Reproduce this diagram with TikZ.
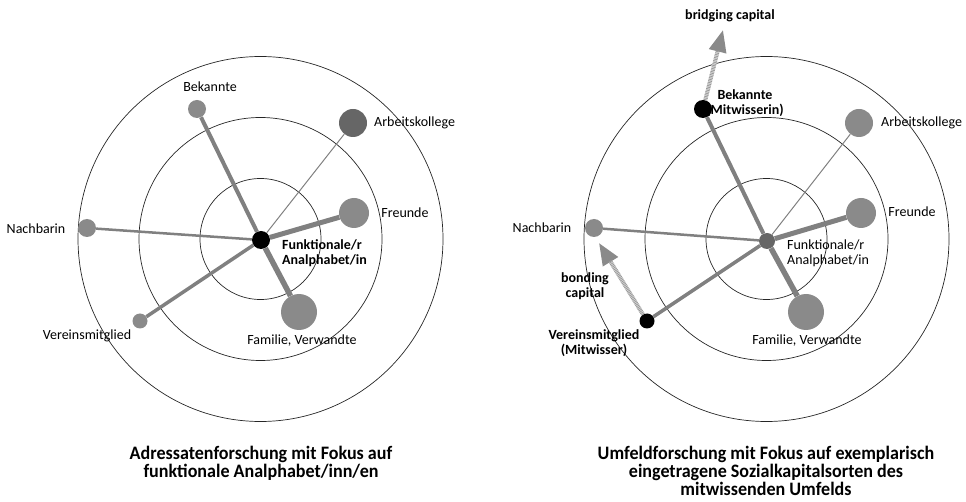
\documentclass[tikz,border=0pt]{standalone}
\usepackage{fontspec}
\setmainfont{Carlito}
\newfontfamily\titulofont[FakeStretch=0.95]{Carlito}
\usepackage{tikz}
\usetikzlibrary{arrows.meta}
\definecolor{nodogris}{HTML}{8A8A8A}
\definecolor{nodooscuro}{HTML}{666666}
\definecolor{lineagris}{HTML}{808080}
\definecolor{rayado}{HTML}{E4E4E4}
\tikzset{
  persona/.style={circle, fill=nodogris, inner sep=0pt},
  anillo/.style={draw=black!85, line width=0.7pt},
  lazo/.style={lineagris},
  etiqueta/.style={font=\fontsize{14}{15}\selectfont, inner sep=0pt, align=center},
  titulo/.style={font=\titulofont\fontsize{19}{18}\selectfont\bfseries, align=center},
  capital/.style={-{Triangle[length=22pt, width=17pt, color=nodogris]},
    line width=4pt, rayado,
    postaction={draw=gray!80, -, dash pattern=on 0.8pt off 0.8pt, shorten >=21pt}}
}

\begin{document}
\begin{tikzpicture}[x=1pt, y=-1pt,
  fuerte/.style={etiqueta, font=\fontsize{14}{15}\selectfont\bfseries}]
  \useasboundingbox (0,0) rectangle (966,502);

  % --- Anillos ---
  \foreach \cx in {260.5, 766.5} {
    \foreach \r in {60.5, 121.5, 182.5} {
      \draw[anillo] (\cx,239) circle[radius=\r pt];
    }
  }

  % --- Etiquetas (antes de los nodos) ---
  \node[etiqueta] at (210,87) {Bekannte};
  \node[etiqueta, anchor=west] at (374,123) {Arbeitskollege};
  \node[etiqueta] at (405,213) {Freunde};
  \node[etiqueta] at (36,229) {Nachbarin};
  \node[etiqueta] at (87,336) {Vereinsmitglied};
  \node[etiqueta] at (302,341) {Familie, Verwandte};
  \node[fuerte, anchor=west, align=left] at (282,253.5) {Funktionale/r\\Analphabet/in};

  \node[fuerte] at (730,16) {bridging capital};
  \node[fuerte] at (745,103.5) {Bekannte\\(Mitwisserin)};
  \node[etiqueta, anchor=west] at (881,123) {Arbeitskollege};
  \node[etiqueta] at (912,212) {Freunde};
  \node[etiqueta] at (542,228) {Nachbarin};
  \node[etiqueta, anchor=west, align=left] at (787,253.5) {Funktionale/r\\Analphabet/in};
  \node[fuerte] at (585,286.5) {bonding\\capital};
  \node[fuerte] at (594,343) {Vereinsmitglied\\(Mitwisser)};
  \node[etiqueta] at (807,341) {Familie, Verwandte};

  % --- Netz links ---
  \node[persona, fill=black, minimum size=18pt] (funkL) at (261,240) {};
  \node[persona, minimum size=18pt] (bekL) at (197,109) {};
  \node[persona, fill=nodooscuro, minimum size=28pt] (arbL) at (353,123) {};
  \node[persona, minimum size=30pt] (freL) at (354,213) {};
  \node[persona, minimum size=36pt] (famL) at (299,312) {};
  \node[persona, minimum size=18pt] (nacL) at (87,228) {};
  \node[persona, minimum size=15pt] (verL) at (140,321) {};

  \draw[lazo, line width=4pt]   (funkL) -- (bekL);
  \draw[lazo, line width=1pt]   (funkL) -- (arbL);
  \draw[lazo, line width=5pt]   (funkL) -- (freL);
  \draw[lazo, line width=5.5pt] (funkL) -- (famL);
  \draw[lazo, line width=2.5pt] (funkL) -- (nacL);
  \draw[lazo, line width=3.5pt] (funkL) -- (verL);

  % --- Netz rechts ---
  \node[persona, fill=nodooscuro, minimum size=16pt] (funkR) at (767,241) {};
  \node[persona, fill=black, minimum size=18pt] (bekR) at (703,109) {};
  \node[persona, minimum size=28pt] (arbR) at (859,123) {};
  \node[persona, minimum size=30pt] (freR) at (861,213) {};
  \node[persona, minimum size=36pt] (famR) at (806,312) {};
  \node[persona, minimum size=18pt] (nacR) at (594,228) {};
  \node[persona, fill=black, minimum size=15pt] (verR) at (647,321) {};

  \draw[lazo, line width=4pt]   (funkR) -- (bekR);
  \draw[lazo, line width=1pt]   (funkR) -- (arbR);
  \draw[lazo, line width=5pt]   (funkR) -- (freR);
  \draw[lazo, line width=5.5pt] (funkR) -- (famR);
  \draw[lazo, line width=2.5pt] (funkR) -- (nacR);
  \draw[lazo, line width=3.5pt] (funkR) -- (verR);

  % Sozialkapital-Pfeile
  \coordinate (puenteR) at (723,30);
  \coordinate (unionR) at (599,243);
  \draw[capital] (bekR) -- (puenteR);
  \draw[capital] (verR) -- (unionR);

  % --- Titel ---
  \node[titulo] at (261,463) {Adressatenforschung mit Fokus auf\\funktionale Analphabet/inn/en};
  \node[titulo] at (766,471) {Umfeldforschung mit Fokus auf exemplarisch\\eingetragene Sozialkapitalsorten des\\mitwissenden Umfelds};

\end{tikzpicture}
\end{document}
